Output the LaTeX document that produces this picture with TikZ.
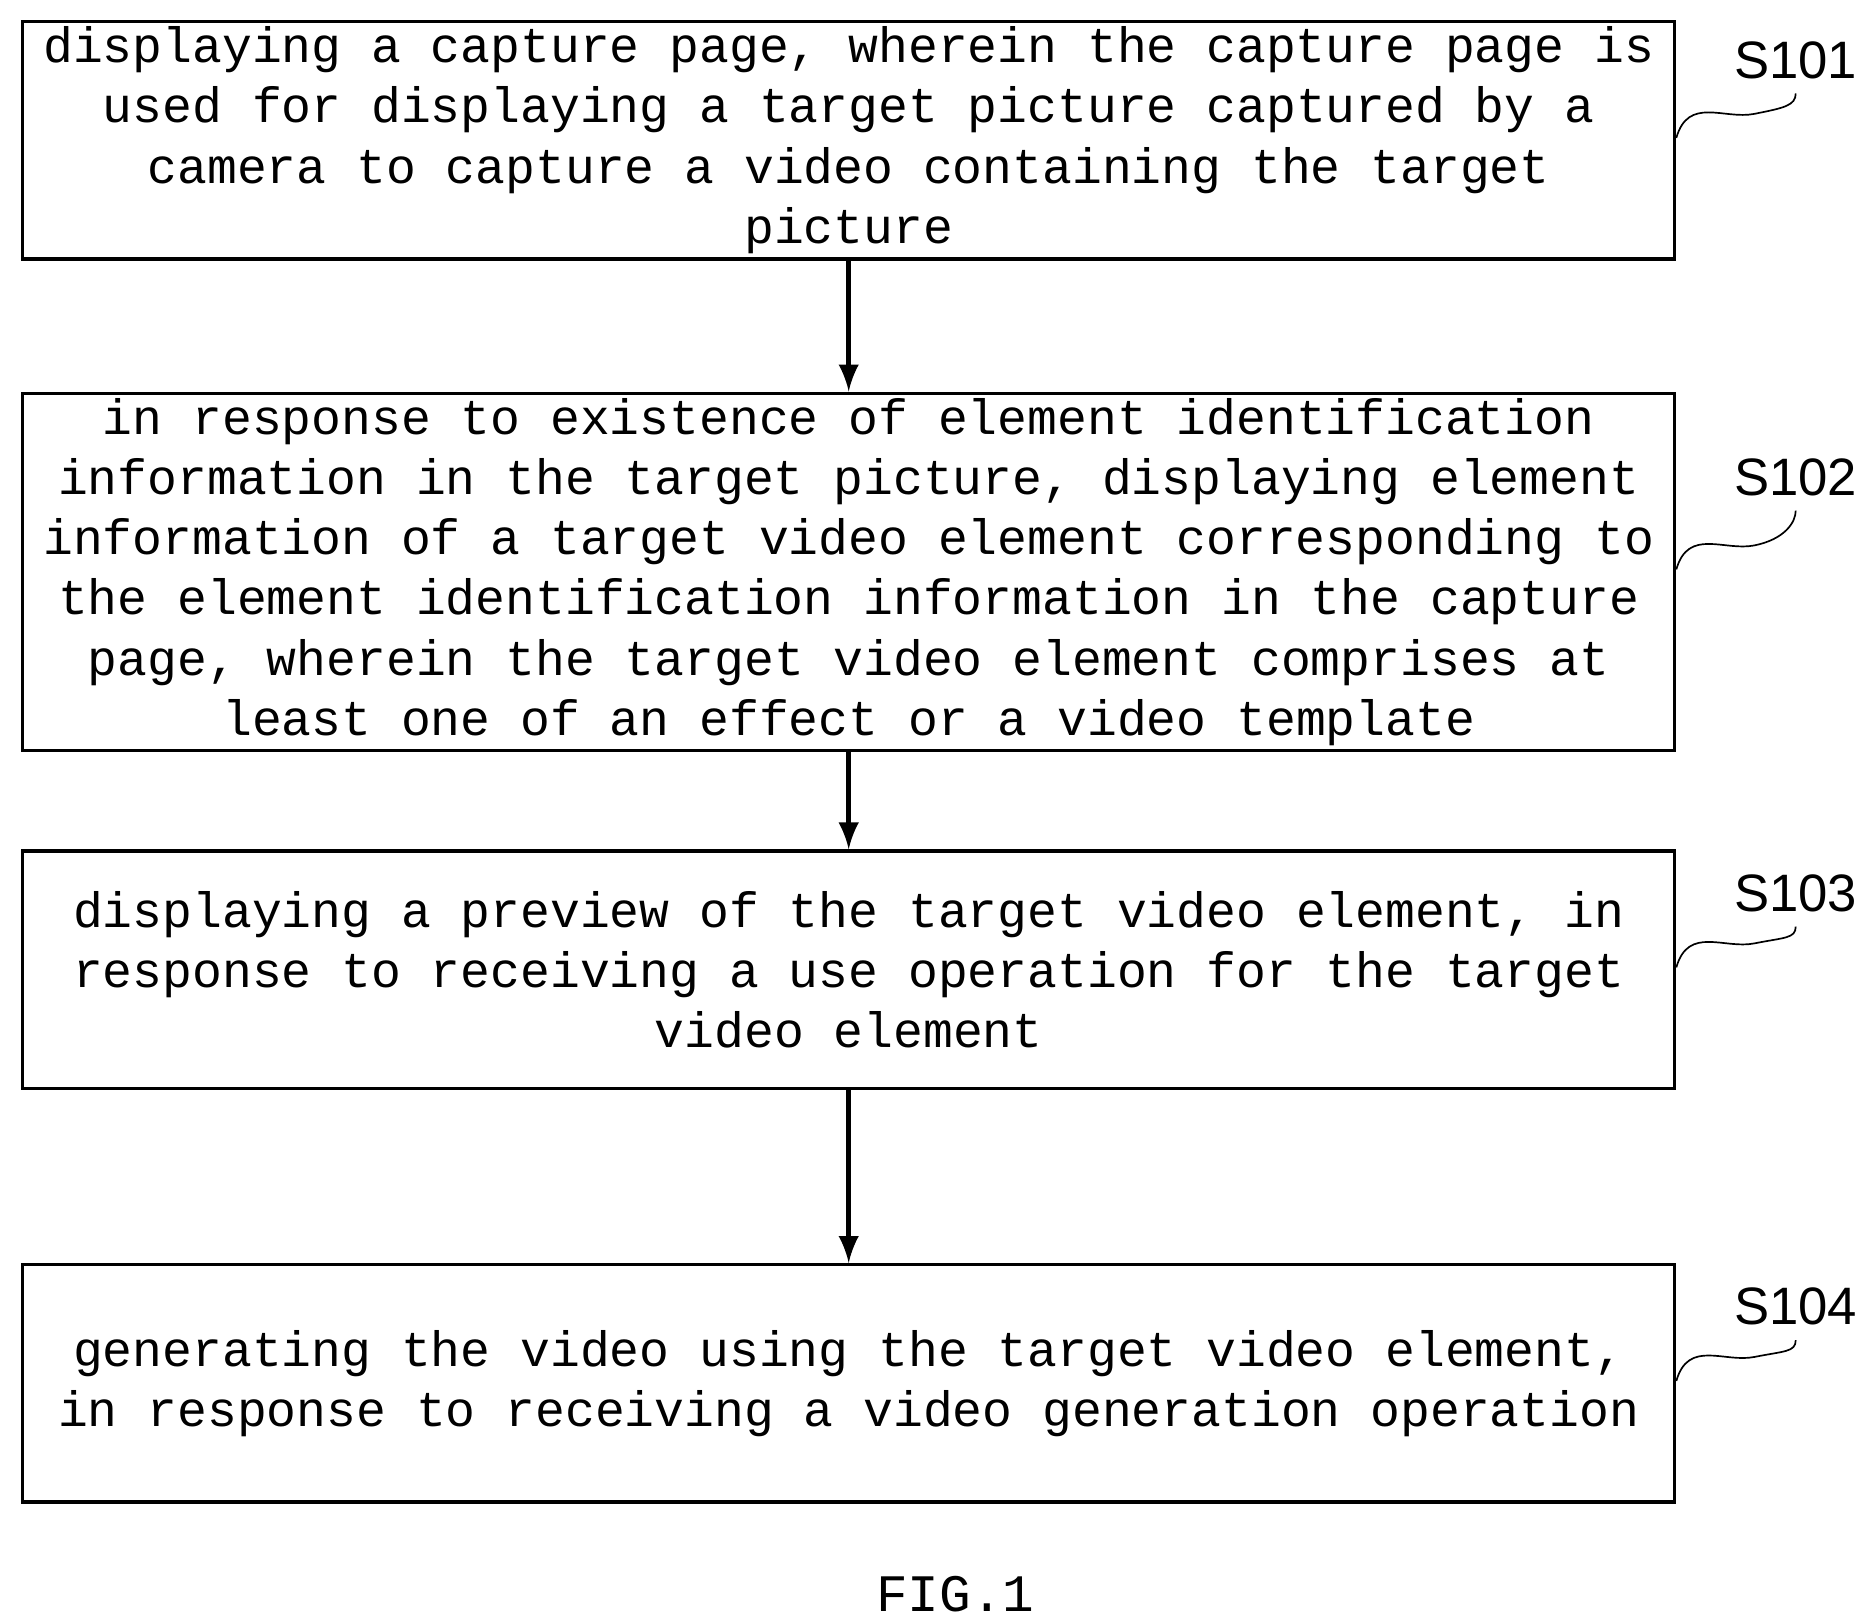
\documentclass[tikz,border=0pt]{standalone}
\usepackage{fontspec}
\setmainfont{Liberation Sans}
\setmonofont{Liberation Mono}
\usetikzlibrary{arrows,positioning,calc}
\tikzset{
  stepbox/.style={draw, thick, minimum width=13.78cm, minimum height=1.98cm,
    align=center, inner sep=0pt, font=\ttfamily\fontsize{11.8}{14.3}\selectfont},
  steplabel/.style={font=\fontsize{12.5}{14}\selectfont},
  flow/.style={->, >=latex, very thick},
  squiggle/.style={thin}
}
\begin{document}
\begin{tikzpicture}
  \useasboundingbox (0,0) rectangle (15.6,-13.53);
  \node (s101) [stepbox] at (7.08,-1.17)
    {displaying a capture page, wherein the capture page is\\
     used for displaying a target picture captured by a\\
     camera to capture a video containing the target\\
     picture};
  \node (s102) [stepbox, minimum height=2.98cm] at (7.08,-4.77)
    {in response to existence of element identification\\
     information in the target picture, displaying element\\
     information of a target video element corresponding to\\
     the element identification information in the capture\\
     page, wherein the target video element comprises at\\
     least one of an effect or a video template};
  \node (s103) [stepbox] at (7.08,-8.09)
    {displaying a preview of the target video element, in\\
     response to receiving a use operation for the target\\
     video element};
  \node (s104) [stepbox] at (7.08,-11.54)
    {generating the video using the target video element,\\
     in response to receiving a video generation operation};
  % Draw arrows
  \draw[flow] (s101) -- (s102);
  \draw[flow] (s102) -- (s103);
  \draw[flow] (s103) -- (s104);
  % step labels
  \foreach \name/\y in {s101/-0.5, s102/-3.98, s103/-7.45, s104/-10.9} {
    \node (l\name) [steplabel] at (14.98,\y) {\MakeUppercase{\name}};
    \coordinate (e\name) at ($(\name.east)+(0,0.02)$);
    \draw[squiggle] (e\name) .. controls +(0.1,0.35) and +(-0.25,-0.05) .. ++(0.65,0.2)
      .. controls +(0.25,0.05) and +(0,-0.1) .. (l\name.south);
  }
  \node (caption) [font=\ttfamily\fontsize{12.5}{14}\selectfont] at (7.97,-13.3) {FIG.1};
\end{tikzpicture}
\end{document}
